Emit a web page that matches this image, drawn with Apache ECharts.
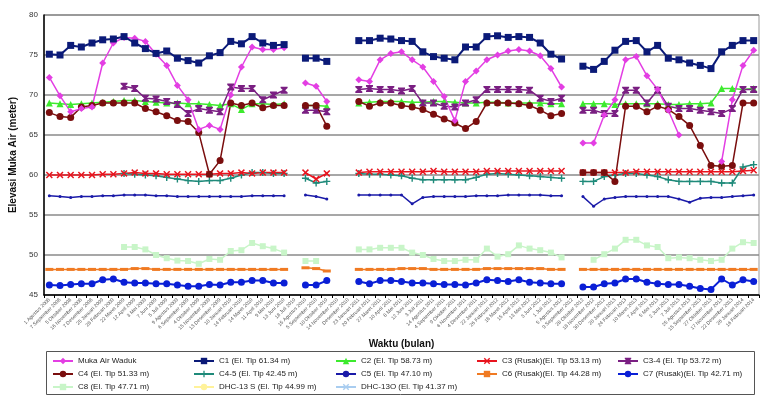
<!DOCTYPE html>
<html>
<head>
    <meta charset="UTF-8">
    <title>Elevasi Muka Air</title>
    <script src="https://cdn.jsdelivr.net/npm/echarts@6/dist/echarts.min.js"></script>
    <style>
        html, body { margin: 0; padding: 0; background: #fff; }
        #chart { width: 763px; height: 406px; }
    </style>
</head>
<body>
    <div id="chart"></div>
    <script>
        // tick labels (tanggal pengamatan)
        var dates = [
            '1 Agustus 2008', '7 September 2008', '5 Oktober 2008', '16 November 2008', '7 Desember 2008',
            '25 Januari 2009', '28 Februari 2009', '22 Maret 2009', '12 April 2009', '3 Mei 2009',
            '7 Juni 2009', '5 Juli 2009', '9 Agustus 2009', '6 September 2009', '4 Oktober 2009',
            '15 November 2009', '13 Desember 2009', '10 Januari 2010', '14 Februari 2010', '14 Maret 2010',
            '11 April 2010', '9 Mei 2010', '13 Juni 2010', '18 Juli 2010', '15 Agustus 2010',
            '5 September 2010', '10 Oktober 2010', '14 November 2010', 'Desember 2010', '23 Januari 2011',
            '20 Februari 2011', '27 Maret 2011', '10 April 2011', '8 Mei 2011', '12 Juni 2011',
            '3 Juli 2011', '14 Agustus 2011', '4 September 2011', '9 Oktober 2011', '6 November 2011',
            '4 Desember 2011', '22 Januari 2012', '26 Februari 2012', '18 Maret 2012', '15 April 2012',
            '13 Mei 2012', '3 Juni 2012', '1 Juli 2012', '5 Agustus 2012', '9 September 2012',
            '28 Oktober 2012', '18 November 2012', '30 Desember 2012', '20 Januari 2013', '24 Februari 2013',
            '10 Maret 2013', '7 April 2013', '5 Mei 2013', '2 Juni 2013', '7 Juli 2013',
            '25 Agustus 2013', '15 September 2013', '27 Oktober 2013', '17 November 2013', '22 Desember 2013',
            '26 Januari 2014', '16 Februari 2014'
        ];

        var mukaAir = [72.2, 69.9, 67.9, 68.3, 68.5, 74.0, 76.5, 77.2, 77.1, 76.7, 75.1, 73.7, 71.2, 69.4, 65.7, 66.2, 65.7, 70.0, 73.5, 76.0, 75.7, 75.7, 75.9, null,
            71.5, 71.1, 69.2, null, null, 71.9, 71.7, 74.4, 75.2, 75.4, 74.4, 73.5, 71.7, 69.8, 66.8, 71.7, 73.0, 74.4, 75.0, 75.5, 75.7, 75.5, 74.9, 73.3, 71.0, null,
            64.0, 64.0, 67.5, 69.4, 74.4, 74.8, 72.4, 70.7, 68.1, 65.0, null, null, null, 61.7, 69.4, 73.7, 75.6];
        var c1 = [75.1, 75.0, 76.2, 76.0, 76.5, 76.9, 77.0, 77.3, 76.5, 75.8, 75.2, 75.5, 74.6, 74.3, 74.0, 74.9, 75.3, 76.7, 76.4, 77.3, 76.5, 76.2, 76.3, null,
            74.6, 74.6, 74.2, null, null, 76.8, 76.8, 77.1, 77.0, 76.8, 76.7, 75.4, 74.8, 74.6, 74.4, 76.0, 76.0, 77.3, 77.4, 77.2, 77.3, 77.2, 76.5, 75.1, 74.5, null,
            73.6, 73.2, 74.2, 75.6, 76.7, 76.8, 75.4, 76.2, 74.6, 74.4, 74.0, 73.7, 73.3, 75.4, 76.2, 76.8, 76.8];
        var c2 = [69.0, 68.9, 68.8, 68.9, 69.0, 69.1, 69.2, 69.3, 69.3, 69.2, 69.1, 69.0, 69.0, 68.9, 68.9, 68.8, 68.7, 68.9, 68.2, 68.9, 68.9, 68.8, 68.9, null,
            68.7, 68.7, 68.6, null, null, 69.0, 69.1, 69.2, 69.2, 69.2, 69.1, 69.1, 69.2, 69.2, 69.1, 69.0, 69.0, 69.1, 69.1, 69.0, 69.0, 69.0, 69.0, 68.9, 68.9, null,
            68.9, 68.9, 68.9, 68.8, 68.9, 68.9, 68.9, 68.9, 68.8, 68.8, 68.9, 68.9, 69.0, 70.8, 70.8, 70.7, 70.8];
        var c3 = [60.0, 60.0, 60.0, 60.0, 60.0, 60.1, 60.1, 60.2, 60.3, 60.2, 60.2, 60.1, 60.1, 60.1, 60.1, 60.1, 60.2, 60.2, 60.3, 60.2, 60.3, 60.3, 60.3, null,
            60.3, 59.5, 60.2, null, null, 60.3, 60.4, 60.4, 60.4, 60.4, 60.4, 60.4, 60.5, 60.4, 60.4, 60.4, 60.4, 60.5, 60.5, 60.5, 60.5, 60.5, 60.5, 60.5, 60.5, null,
            60.3, 60.3, 60.3, 60.3, 60.3, 60.4, 60.4, 60.4, 60.4, 60.4, 60.4, 60.4, 60.4, 60.4, 60.4, 60.5, 60.6];
        var c34 = [null, null, null, null, null, null, null, 71.1, 70.8, 69.6, 69.5, 69.2, 68.8, 67.7, 68.3, 68.1, 67.9, 71.0, 70.8, 70.8, 69.4, 70.0, 70.6, null,
            68.1, 68.1, 67.9, null, null, 70.7, 70.8, 70.7, 70.7, 70.5, 70.8, 69.0, 69.0, 68.6, 68.5, 69.0, 69.4, 70.7, 70.7, 70.7, 70.7, 70.6, 69.6, 69.2, 69.6, null,
            68.1, 68.1, 67.7, 67.7, 70.6, 70.6, 69.0, 70.6, 68.6, 68.3, 68.3, 68.1, 67.9, 67.7, 68.3, 70.7, 70.7];
        var c4 = [67.8, 67.3, 67.2, 68.5, 68.7, 69.0, 69.0, 69.0, 69.0, 68.3, 67.9, 67.4, 66.8, 66.7, 65.3, 60.1, 61.8, 69.0, 68.7, 69.0, 68.4, 68.7, 68.7, null,
            68.7, 68.7, 66.1, null, null, 69.2, 68.6, 69.0, 69.0, 68.7, 68.5, 68.2, 67.6, 67.0, 66.5, 65.8, 66.7, 69.0, 69.0, 69.0, 68.9, 68.7, 68.1, 67.4, 67.7, null,
            60.3, 60.3, 60.3, 59.2, 68.6, 68.6, 67.9, 68.6, 68.2, 67.3, 66.2, 63.7, 61.2, 61.1, 61.2, 69.0, 69.0];
        var c45 = [null, null, null, null, null, null, null, 60.2, 60.1, 60.0, 59.9, 59.7, 59.5, 59.3, 59.2, 59.3, 59.3, 59.6, 60.0, 60.3, 60.3, 60.2, 60.2, null,
            59.6, 59.0, 59.2, null, null, 60.2, 60.1, 60.1, 60.0, 59.9, 59.6, 59.4, 59.4, 59.4, 59.4, 59.4, 59.7, 60.1, 60.2, 60.1, 60.0, 59.9, 59.8, 59.7, 59.6, null,
            59.2, 59.2, 59.8, 60.0, 60.2, 60.2, 60.0, 59.8, 59.4, 59.2, 59.2, 59.2, 59.2, 59.0, 59.0, 61.0, 61.3];
        var c5 = [57.4, 57.3, 57.2, 57.3, 57.3, 57.4, 57.4, 57.5, 57.5, 57.5, 57.4, 57.4, 57.3, 57.3, 57.3, 57.3, 57.3, 57.3, 57.3, 57.4, 57.4, 57.4, 57.4, null,
            57.5, 57.3, 57.0, null, null, 57.5, 57.5, 57.5, 57.5, 57.5, 56.4, 57.2, 57.3, 57.3, 57.3, 57.3, 57.4, 57.4, 57.4, 57.5, 57.5, 57.5, 57.5, 57.4, 57.4, null,
            57.3, 56.1, 57.0, 57.2, 57.3, 57.3, 57.3, 57.3, 57.3, 57.0, 56.6, 57.1, 57.2, 57.2, 57.3, 57.4, 57.5];
        var c6 = [48.2, 48.2, 48.2, 48.2, 48.2, 48.2, 48.2, 48.2, 48.3, 48.3, 48.2, 48.2, 48.2, 48.2, 48.2, 48.2, 48.2, 48.2, 48.2, 48.2, 48.2, 48.2, 48.2, null,
            48.4, 48.3, 48.0, null, null, 48.2, 48.2, 48.2, 48.2, 48.3, 48.3, 48.3, 48.2, 48.2, 48.2, 48.2, 48.2, 48.3, 48.3, 48.3, 48.3, 48.3, 48.3, 48.2, 48.2, null,
            48.2, 48.2, 48.2, 48.2, 48.2, 48.2, 48.2, 48.2, 48.2, 48.2, 48.2, 48.2, 48.2, 48.2, 48.2, 48.2, 48.2];
        var c7 = [46.25, 46.2, 46.3, 46.4, 46.4, 46.9, 47.0, 46.6, 46.5, 46.5, 46.4, 46.4, 46.25, 46.1, 46.1, 46.3, 46.25, 46.6, 46.6, 46.8, 46.8, 46.5, 46.5, null,
            46.25, 46.25, 46.8, null, null, 46.7, 46.4, 46.8, 46.8, 46.7, 46.5, 46.5, 46.4, 46.3, 46.3, 46.25, 46.5, 46.9, 46.8, 46.7, 46.9, 46.6, 46.5, 46.4, 46.4, null,
            46.0, 46.0, 46.4, 46.5, 47.0, 47.0, 46.6, 46.4, 46.3, 46.3, 46.1, 45.8, 45.7, 47.0, 46.25, 46.9, 46.7];
        var c8 = [null, null, null, null, null, null, null, 51.0, 51.0, 50.7, 50.0, 49.6, 49.3, 49.25, 48.9, 49.5, 49.4, 50.5, 50.6, 51.5, 51.1, 50.8, 50.3, null,
            49.25, 49.25, null, null, null, 50.7, 50.7, 50.9, 50.9, 50.9, 50.3, 50.0, 49.5, 49.25, 49.25, 49.4, 49.4, 50.8, 49.8, 50.1, 51.2, 50.8, 50.6, 50.3, 49.7, null,
            null, 49.4, 50.1, 50.8, 51.9, 51.9, 51.2, 51.0, 49.6, 49.7, 49.6, 49.4, 49.25, 49.4, 50.8, 51.6, 51.5];
        var dhc13s = [];
        var dhc13o = [];

        var X_PATH = 'path://M0,1.5L1.5,0L5,3.5L8.5,0L10,1.5L6.5,5L10,8.5L8.5,10L5,6.5L1.5,10L0,8.5L3.5,5Z';
        var BOWTIE_PATH = 'path://M0,0L10,0L10,2L6.5,5L10,8L10,10L0,10L0,8L3.5,5L0,2Z';
        var PLUS_PATH = 'path://M4,0h2v4h4v2h-4v4h-2v-4h-4v-2h4z';
        var DASH_PATH = 'path://M0,0h10v3h-10z';

        function line(name, data, color, symbol, size, width) {
            return {
                name: name,
                type: 'line',
                data: data,
                symbol: symbol,
                symbolSize: size,
                showAllSymbol: true,
                connectNulls: false,
                itemStyle: { color: color },
                lineStyle: { color: color, width: width },
                emphasis: { disabled: true }
            };
        }

        var chart = echarts.init(document.getElementById('chart'));
        var legendText = { fontSize: 8, color: '#222', fontFamily: 'Liberation Sans' };
        function legendCol(left, names) {
            return {
                orient: 'vertical', left: left, top: 352,
                itemWidth: 20, itemHeight: 8, itemGap: 5,
                textStyle: legendText, selectedMode: false,
                data: names
            };
        }

        chart.setOption({
            animation: false,
            grid: { left: 40, right: 4, top: 15, bottom: 111, show: true, borderColor: '#999', borderWidth: 1 },
            xAxis: {
                type: 'category',
                data: dates,
                name: 'Waktu (bulan)',
                nameLocation: 'middle',
                nameGap: 41,
                nameTextStyle: { fontSize: 10, fontWeight: 'bold', color: '#111', fontFamily: 'Liberation Sans' },
                axisLine: { lineStyle: { color: '#000', width: 1.5 } },
                axisTick: { show: true, length: 3, lineStyle: { color: '#000' } },
                axisLabel: { interval: 0, rotate: 45, fontSize: 5, color: '#555', margin: 4, fontFamily: 'Liberation Sans' },
                splitLine: { show: false }
            },
            yAxis: {
                type: 'value',
                min: 45, max: 80, interval: 5,
                name: 'Elevasi Muka Air (meter)',
                nameLocation: 'middle',
                nameGap: 26,
                nameTextStyle: { fontSize: 10, fontWeight: 'bold', color: '#111', fontFamily: 'Liberation Sans' },
                axisLine: { show: true, lineStyle: { color: '#000', width: 1.5 } },
                axisTick: { show: false },
                axisLabel: { fontSize: 8, color: '#333', margin: 6, fontFamily: 'Liberation Sans' },
                splitLine: { lineStyle: { color: '#8a8a8a', width: 1.5 } }
            },
            legend: [
                legendCol(47, ['Muka Air Waduk', 'C4 (El. Tip 51.33 m)', 'C8 (El. Tip 47.71 m)']),
                legendCol(188, ['C1 (El. Tip 61.34 m)', 'C4-5 (El. Tip 42.45 m)', 'DHC-13 S (El. Tip 44.99 m)']),
                legendCol(330, ['C2 (El. Tip 58.73 m)', 'C5 (El. Tip 47.10 m)', 'DHC-13O (El. Tip 41.37 m)']),
                legendCol(471, ['C3 (Rusak)(El. Tip 53.13 m)', 'C6 (Rusak)(El. Tip 44.28 m)']),
                legendCol(612, ['C3-4 (El. Tip 53.72 m)', 'C7 (Rusak)(El. Tip 42.71 m)'])
            ],
            graphic: [{
                type: 'rect', left: 44, top: 349,
                shape: { width: 708, height: 43 },
                style: { fill: 'none', stroke: '#555', lineWidth: 1 }
            }],
            series: [
                line('C8 (El. Tip 47.71 m)', c8, '#c8f5c8', 'rect', 6, 1.5),
                line('DHC-13 S (El. Tip 44.99 m)', dhc13s, '#fff29a', 'circle', 6, 1.5),
                line('DHC-13O (El. Tip 41.37 m)', dhc13o, '#a9cdf0', X_PATH, 6, 1.5),
                line('C6 (Rusak)(El. Tip 44.28 m)', c6, '#f07a22', DASH_PATH, [8, 3], 1.5),
                line('C7 (Rusak)(El. Tip 42.71 m)', c7, '#0a1fd6', 'circle', 7, 2),
                line('C5 (El. Tip 47.10 m)', c5, '#1a1aa8', 'circle', 3, 1.5),
                line('C4-5 (El. Tip 42.45 m)', c45, '#1f8a7a', PLUS_PATH, 7, 1.5),
                line('C3 (Rusak)(El. Tip 53.13 m)', c3, '#e8141e', X_PATH, 7, 1.5),
                line('C2 (El. Tip 58.73 m)', c2, '#3dea2e', 'triangle', 7, 1.5),
                line('C3-4 (El. Tip 53.72 m)', c34, '#7a1f82', BOWTIE_PATH, 7, 1.5),
                line('C4 (El. Tip 51.33 m)', c4, '#7a0e0e', 'circle', 7, 1.5),
                line('Muka Air Waduk', mukaAir, '#e33ee3', 'diamond', 7, 1.5),
                line('C1 (El. Tip 61.34 m)', c1, '#0b1a78', 'rect', 7, 2)
            ]
        });
    </script>
</body>
</html>
